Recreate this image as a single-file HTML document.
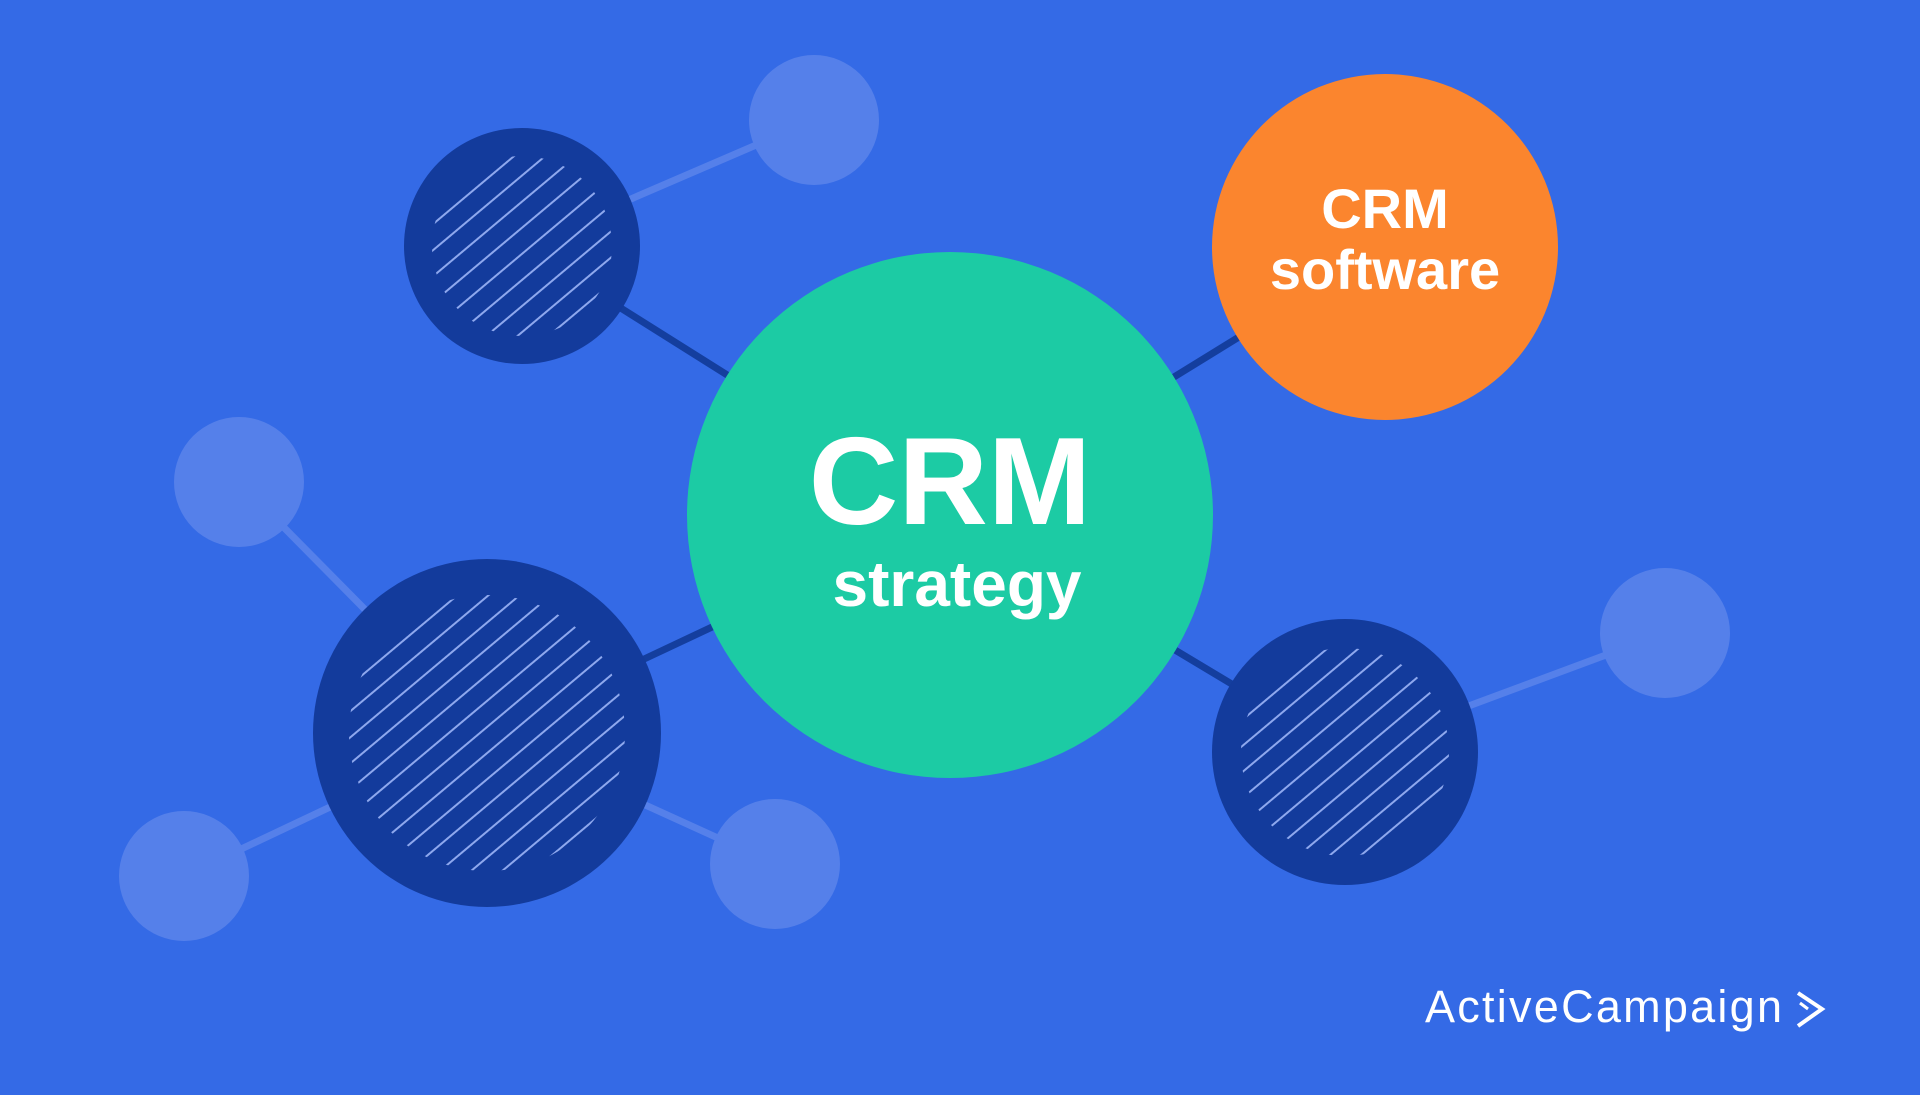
<!DOCTYPE html>
<html><head><style>
html,body{margin:0;padding:0;background:#346ae6;}
svg{display:block;}
</style></head><body>
<svg width="1920" height="1098" viewBox="0 0 1920 1098" xmlns="http://www.w3.org/2000/svg">
<defs>
<pattern id="h" patternUnits="userSpaceOnUse" width="20" height="20" patternTransform="rotate(-40)">
<line x1="0" y1="10" x2="20" y2="10" stroke="#8ea8ee" stroke-width="2"/>
</pattern>
<clipPath id="c1"><circle cx="522" cy="246" r="90"/></clipPath>
<clipPath id="c2"><circle cx="487" cy="733" r="138"/></clipPath>
<clipPath id="c3"><circle cx="1345" cy="752" r="104"/></clipPath>
</defs>
<rect width="1920" height="1098" fill="#346ae6"/>
<rect y="1095" width="1920" height="3" fill="#ffffff"/>
<g stroke="#5580ea" stroke-width="7">
<line x1="522" y1="246" x2="814" y2="120"/>
<line x1="239" y1="482" x2="487" y2="733"/>
<line x1="184" y1="876" x2="487" y2="733"/>
<line x1="775" y1="864" x2="487" y2="733"/>
<line x1="1345" y1="752" x2="1665" y2="633"/>
</g>
<g stroke="#143e9e" stroke-width="7">
<line x1="522" y1="246" x2="950" y2="515"/>
<line x1="487" y1="733" x2="950" y2="515"/>
<line x1="1345" y1="752" x2="950" y2="515"/>
<line x1="1385" y1="247" x2="950" y2="515"/>
</g>
<g fill="#5580ea">
<circle cx="814" cy="120" r="65"/>
<circle cx="239" cy="482" r="65"/>
<circle cx="184" cy="876" r="65"/>
<circle cx="775" cy="864" r="65"/>
<circle cx="1665" cy="633" r="65"/>
</g>
<g fill="#133b9c">
<circle cx="522" cy="246" r="118"/>
<circle cx="487" cy="733" r="174"/>
<circle cx="1345" cy="752" r="133"/>
</g>
<rect x="400" y="130" width="250" height="250" fill="url(#h)" clip-path="url(#c1)"/>
<rect x="320" y="570" width="340" height="340" fill="url(#h)" clip-path="url(#c2)"/>
<rect x="1220" y="630" width="260" height="260" fill="url(#h)" clip-path="url(#c3)"/>
<circle cx="950" cy="515" r="263" fill="#1ccba4"/>
<circle cx="1385" cy="247" r="173" fill="#fb852e"/>
<g fill="#ffffff" font-family="Liberation Sans, sans-serif" font-weight="bold" text-anchor="middle">
<text x="950" y="524" font-size="124">CRM</text>
<text x="957" y="606" font-size="64">strategy</text>
<text x="1385" y="228" font-size="56">CRM</text>
<text x="1385" y="289" font-size="56">software</text>
</g>
<text x="1425" y="1022" font-family="Liberation Sans, sans-serif" font-size="45" fill="#ffffff" textLength="357">ActiveCampaign</text>
<path d="M1798 993 L1822 1009 L1798 1026" fill="none" stroke="#ffffff" stroke-width="4"/>
<path d="M1800 1003 L1808 1009" fill="none" stroke="#ffffff" stroke-width="3"/>
</svg>
</body></html>
